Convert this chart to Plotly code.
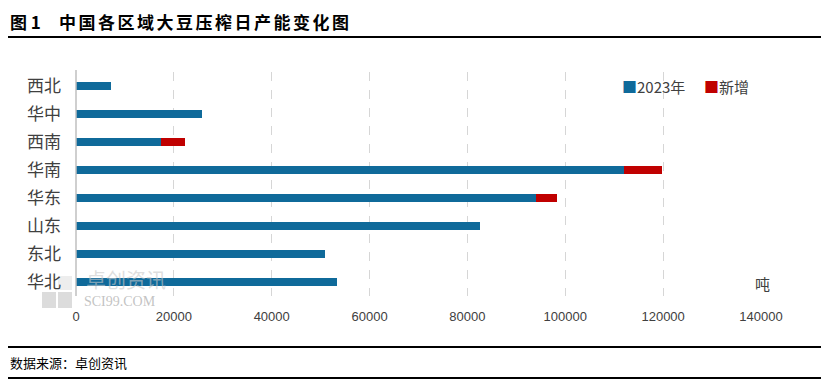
import plotly.graph_objects as go

regions = ["西北", "华中", "西南", "华南", "华东", "山东", "东北", "华北"]
base_2023 = [7100, 25800, 17300, 111900, 94100, 82500, 50900, 53400]
new_add = [0, 0, 4900, 7900, 4300, 0, 0, 0]
x_ticks = [0, 20000, 40000, 60000, 80000, 100000, 120000, 140000]

W, H = 829, 382
OFF = 8  # page body margin
def px(x):
    return (x - OFF) / W
def py(y):
    return 1 - (y - OFF) / H

BLUE = "#0F6A9A"
RED = "#C00000"
CJK = "Noto Sans CJK SC"

fig = go.Figure()
fig.add_trace(go.Bar(y=regions, x=base_2023, orientation="h", name="2023年",
                     marker=dict(color=BLUE, line=dict(width=0))))
fig.add_trace(go.Bar(y=regions, x=new_add, orientation="h", name="新增",
                     marker=dict(color=RED, line=dict(width=0))))

fig.update_layout(
    width=W, height=H,
    margin=dict(l=0, r=0, t=0, b=0, autoexpand=False),
    paper_bgcolor="white", plot_bgcolor="white",
    barmode="stack", bargap=0.68,
    font=dict(family=CJK, color="#404040"),
    xaxis=dict(domain=[px(76), px(761)], range=[0, 140000], automargin=False,
               tickvals=x_ticks, ticktext=[str(v) for v in x_ticks],
               showgrid=True, gridcolor="#D6D6D6", griddash="dash", gridwidth=1,
               zeroline=False, showline=False, ticks="",
               tickfont=dict(size=13, color="#404040", family="Liberation Sans Narrow, Liberation Sans"),
               ticklabelstandoff=11, fixedrange=True),
    yaxis=dict(domain=[py(296), py(72)], categoryorder="array", automargin=False,
               categoryarray=regions[::-1], range=[-0.5, 7.5],
               showgrid=False, zeroline=False, showline=False, ticks="",
               tickfont=dict(size=17, color="#404040", family=CJK),
               ticklabelstandoff=14),
    showlegend=False,
)

shapes = [
    # watermark logo blocks
    dict(type="rect", xref="paper", yref="paper", x0=px(42), x1=px(56), y0=py(308), y1=py(292),
         fillcolor="rgba(205,205,205,0.7)", line=dict(width=0), layer="below"),
    dict(type="rect", xref="paper", yref="paper", x0=px(58), x1=px(72), y0=py(308), y1=py(292),
         fillcolor="rgba(205,205,205,0.7)", line=dict(width=0), layer="below"),
    dict(type="rect", xref="paper", yref="paper", x0=px(58), x1=px(72), y0=py(290), y1=py(276),
         fillcolor="rgba(220,220,220,0.5)", line=dict(width=0), layer="below"),
    dict(type="line", xref="paper", yref="paper", x0=px(76), x1=px(76), y0=py(296), y1=py(70),
         line=dict(color="#BFBFBF", width=1.5)),
    dict(type="line", xref="paper", yref="paper", x0=0, x1=1, y0=py(37), y1=py(37),
         line=dict(color="#000000", width=2)),
    dict(type="line", xref="paper", yref="paper", x0=0, x1=1, y0=py(347), y1=py(347),
         line=dict(color="#000000", width=2)),
    dict(type="line", xref="paper", yref="paper", x0=0, x1=1, y0=py(378), y1=py(378),
         line=dict(color="#000000", width=2)),
]
fig.update_layout(shapes=shapes)

# legend drawn as text markers
fig.add_annotation(text=f"<span style='color:{BLUE}'>■</span>2023年", xref="paper", yref="paper",
                   x=px(620), y=py(86), xanchor="left", yanchor="middle", showarrow=False,
                   font=dict(size=15, color="#404040", family=CJK))
fig.add_annotation(text=f"<span style='color:{RED}'>■</span>新增", xref="paper", yref="paper",
                   x=px(702), y=py(86), xanchor="left", yanchor="middle", showarrow=False,
                   font=dict(size=15, color="#404040", family=CJK))

fig.add_annotation(text="<b>图 1</b>", xref="paper", yref="paper",
                   x=px(8), y=py(21), xanchor="left", yanchor="middle", showarrow=False,
                   font=dict(size=17, color="#000000", family=CJK))
fig.add_annotation(text="<b><span style='letter-spacing:2.5px'>中国各区域大豆压榨日产能变化图</span></b>",
                   xref="paper", yref="paper",
                   x=px(57), y=py(21), xanchor="left", yanchor="middle", showarrow=False,
                   font=dict(size=17, color="#000000", family=CJK))
fig.add_annotation(text="数据来源：卓创资讯", xref="paper", yref="paper",
                   x=px(8), y=py(362), xanchor="left", yanchor="middle", showarrow=False,
                   font=dict(size=13, color="#000000", family=CJK))
fig.add_annotation(text="吨", xref="paper", yref="paper",
                   x=px(762), y=py(283), xanchor="center", yanchor="middle", showarrow=False,
                   font=dict(size=15, color="#404040", family=CJK))
# watermark
fig.add_annotation(text="卓创资讯", xref="paper", yref="paper",
                   x=px(84), y=py(279), xanchor="left", yanchor="middle", showarrow=False,
                   font=dict(size=20, color="rgba(200,200,200,0.6)", family=CJK))
fig.add_annotation(text="SCI99.COM", xref="paper", yref="paper",
                   x=px(82), y=py(301), xanchor="left", yanchor="middle", showarrow=False,
                   font=dict(size=14, color="rgba(180,180,180,0.8)", family="Liberation Serif"))

fig.write_html("out.html")
